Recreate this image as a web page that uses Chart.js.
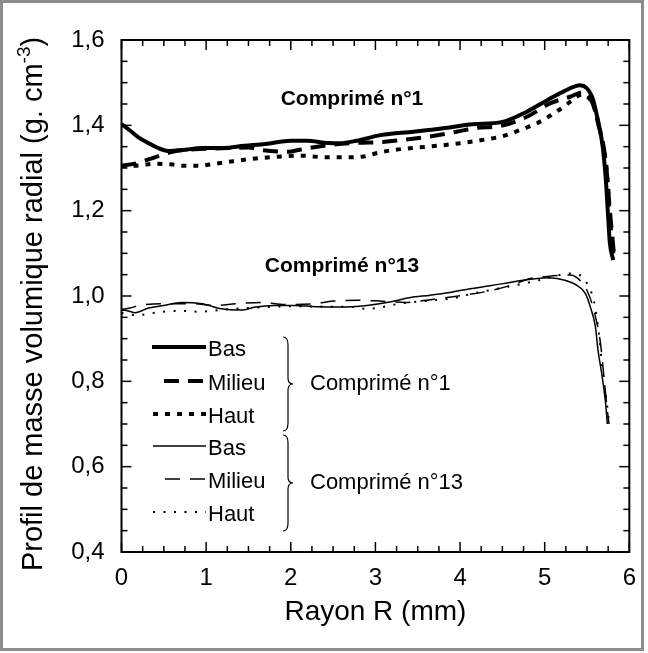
<!DOCTYPE html>
<html>
<head>
<meta charset="utf-8">
<script src="https://cdn.jsdelivr.net/npm/chart.js@4.4.0/dist/chart.umd.min.js"></script>
<style>
  html, body { margin: 0; padding: 0; background: #fff; }
  canvas { display: block; }
</style>
</head>
<body>
<canvas id="ch" width="648" height="653"></canvas>
<script>
// ── Données (rayon en mm, masse volumique en g.cm-3) ──
const c1BasR    = [0, 0.1, 0.2, 0.32, 0.42, 0.55, 0.72, 0.95, 1.2, 1.45, 1.7, 2.0, 2.2, 2.4, 2.58, 2.78, 3.06, 3.45, 3.8, 4.12, 4.5, 4.79, 5.03, 5.22, 5.42, 5.56, 5.62, 5.68, 5.72, 5.75, 5.77, 5.81];
const c1BasRho  = [1.403, 1.388, 1.372, 1.358, 1.348, 1.340, 1.342, 1.347, 1.347, 1.352, 1.356, 1.364, 1.364, 1.359, 1.358, 1.364, 1.377, 1.385, 1.393, 1.402, 1.408, 1.432, 1.459, 1.479, 1.494, 1.467, 1.420, 1.358, 1.279, 1.185, 1.124, 1.084];

const c1MilR    = [0, 0.18, 0.32, 0.47, 0.6, 0.72, 1.0, 1.3, 1.5, 1.66, 1.97, 2.11, 2.46, 2.78, 3.09, 3.37, 3.68, 3.96, 4.16, 4.51, 4.79, 5.07, 5.3, 5.46, 5.56, 5.63, 5.72, 5.77, 5.82];
const c1MilRho  = [1.305, 1.311, 1.320, 1.330, 1.338, 1.342, 1.345, 1.347, 1.348, 1.342, 1.338, 1.343, 1.354, 1.359, 1.361, 1.367, 1.375, 1.385, 1.393, 1.400, 1.420, 1.452, 1.467, 1.478, 1.455, 1.405, 1.318, 1.201, 1.095];

const c1HautR   = [0, 0.2, 0.4, 0.61, 0.75, 0.91, 1.07, 1.32, 1.62, 1.89, 2.1, 2.43, 2.7, 2.86, 3.02, 3.17, 3.45, 3.73, 4.0, 4.24, 4.51, 4.71, 4.91, 5.14, 5.3, 5.44, 5.58, 5.66, 5.74, 5.77, 5.81];
const c1HautRho = [1.305, 1.306, 1.310, 1.308, 1.305, 1.305, 1.309, 1.316, 1.323, 1.327, 1.329, 1.325, 1.325, 1.327, 1.335, 1.341, 1.347, 1.352, 1.358, 1.365, 1.375, 1.389, 1.405, 1.432, 1.455, 1.472, 1.444, 1.381, 1.279, 1.185, 1.100];

const c13BasR    = [0, 0.08, 0.16, 0.32, 0.5, 0.71, 0.95, 1.18, 1.42, 1.58, 1.81, 2.05, 2.3, 2.58, 2.9, 3.17, 3.4, 3.65, 3.9, 4.12, 4.51, 4.83, 5.06, 5.24, 5.38, 5.48, 5.54, 5.6, 5.63, 5.68, 5.72, 5.74];
const c13BasRho  = [0.967, 0.965, 0.961, 0.972, 0.978, 0.985, 0.982, 0.970, 0.967, 0.974, 0.978, 0.978, 0.975, 0.974, 0.978, 0.986, 0.996, 1.002, 1.009, 1.017, 1.029, 1.039, 1.043, 1.037, 1.025, 1.006, 0.974, 0.927, 0.873, 0.810, 0.748, 0.700];

const c13MilR    = [0, 0.1, 0.22, 0.49, 0.83, 1.1, 1.36, 1.66, 1.93, 2.27, 2.5, 2.8, 3.05, 3.35, 3.67, 3.94, 4.3, 4.6, 4.83, 5.03, 5.3, 5.38, 5.5, 5.58, 5.66, 5.7, 5.74, 5.76];
const c13MilRho  = [0.968, 0.972, 0.978, 0.982, 0.982, 0.978, 0.982, 0.985, 0.980, 0.982, 0.988, 0.990, 0.988, 0.985, 0.992, 0.999, 1.010, 1.025, 1.041, 1.046, 1.049, 1.043, 1.013, 0.967, 0.888, 0.810, 0.732, 0.700];

const c13HautR   = [0, 0.18, 0.47, 0.75, 0.91, 1.2, 1.5, 1.8, 2.1, 2.4, 2.74, 2.9, 3.06, 3.17, 3.4, 3.7, 3.95, 4.16, 4.44, 4.7, 5.0, 5.3, 5.44, 5.52, 5.58, 5.64, 5.67, 5.7, 5.74, 5.76];
const c13HautRho = [0.960, 0.955, 0.963, 0.965, 0.963, 0.968, 0.972, 0.975, 0.976, 0.975, 0.974, 0.970, 0.973, 0.978, 0.985, 0.990, 0.996, 1.006, 1.017, 1.027, 1.040, 1.053, 1.046, 1.021, 0.990, 0.912, 0.853, 0.800, 0.740, 0.700];

const xTickLabels = ['0', '1', '2', '3', '4', '5', '6'];
const yTickLabels = ['0,4', '0,6', '0,8', '1,0', '1,2', '1,4', '1,6'];
const serieLabels = ['Bas', 'Milieu', 'Haut', 'Bas', 'Milieu', 'Haut'];
const groupLabels = ['Comprimé n°1', 'Comprimé n°13'];

const FONT = '"Liberation Sans", Arial, Helvetica, sans-serif';

const pts = (r, rho) => r.map((v, i) => ({ x: v, y: rho[i] }));

function serie(label, r, rho, width, dash) {
    return {
        label, data: pts(r, rho),
        borderColor: '#000', borderWidth: width, borderDash: dash,
        pointRadius: 0, fill: false, cubicInterpolationMode: 'monotone',
        borderCapStyle: 'butt', borderJoinStyle: 'round',
    };
}

// ── Cadre, graduations internes, titres, légende ──────────────────────────
const decor = {
    id: 'decor',
    beforeDraw(chart) {
        const ctx = chart.ctx;
        ctx.save();
        ctx.fillStyle = '#fff';
        ctx.fillRect(0, 0, chart.width, chart.height);
        ctx.strokeStyle = '#8c8c8c';
        ctx.lineWidth = 3;
        ctx.strokeRect(1.5, 1.5, 641, 648);
        ctx.restore();
    },
    afterDraw(chart) {
        const { ctx, chartArea: a, scales: { x, y } } = chart;
        ctx.save();
        ctx.strokeStyle = '#000';
        ctx.lineWidth = 2;
        ctx.strokeRect(a.left, a.top, a.right - a.left, a.bottom - a.top);

        const seg = (x1, y1, x2, y2) => { ctx.beginPath(); ctx.moveTo(x1, y1); ctx.lineTo(x2, y2); ctx.stroke(); };
        ctx.lineWidth = 1.5;
        for (let i = 0; i <= 24; i++) {
            const px = x.getPixelForValue(i * 0.25);
            const len = i % 4 === 0 ? 10 : 6;
            seg(px, a.bottom, px, a.bottom - len);
            seg(px, a.top, px, a.top + len);
        }
        for (let i = 0; i <= 24; i++) {
            const py = y.getPixelForValue(0.4 + i * 0.05);
            const len = i % 4 === 0 ? 10 : 6;
            seg(a.left, py, a.left + len, py);
            seg(a.right, py, a.right - len, py);
        }

        // titre de l'axe x
        ctx.fillStyle = '#000';
        ctx.font = `28px ${FONT}`;
        ctx.textAlign = 'center';
        ctx.textBaseline = 'alphabetic';
        ctx.fillText('Rayon R (mm)', (a.left + a.right) / 2, 620);

        // titre de l'axe y, avec exposant
        const main = 'Profil de masse volumique radial (g. cm', sup = '-3', end = ')';
        ctx.save();
        ctx.translate(42, 304);
        ctx.rotate(-Math.PI / 2);
        ctx.textAlign = 'left';
        ctx.font = `29px ${FONT}`;
        const wMain = ctx.measureText(main).width, wEnd = ctx.measureText(end).width;
        ctx.font = `19px ${FONT}`;
        const wSup = ctx.measureText(sup).width;
        let sx = -(wMain + wSup + wEnd) / 2;
        ctx.font = `29px ${FONT}`;
        ctx.fillText(main, sx, 0);
        ctx.font = `19px ${FONT}`;
        ctx.fillText(sup, sx + wMain, -12);
        ctx.font = `29px ${FONT}`;
        ctx.fillText(end, sx + wMain + wSup, 0);
        ctx.restore();

        // annotations en gras
        ctx.font = `bold 21px ${FONT}`;
        ctx.textAlign = 'center';
        ctx.fillText(groupLabels[0], 352, 105);
        ctx.fillText(groupLabels[1], 342, 272);

        // légende
        const rows = [347, 381, 414, 446, 479, 512];
        const starts = [152, 164, 153, 153, 165, 153];
        chart.data.datasets.forEach((ds, i) => {
            ctx.save();
            ctx.strokeStyle = '#000';
            ctx.lineWidth = ds.borderWidth;
            ctx.setLineDash(ds.borderDash || []);
            ctx.lineCap = 'butt';
            seg(starts[i], rows[i], 206, rows[i]);
            ctx.restore();
            ctx.font = `22px ${FONT}`;
            ctx.textAlign = 'left';
            ctx.fillText(serieLabels[i], 208, rows[i] + 9);
        });

        // accolades
        const brace = (top, bot) => {
            const mid = (top + bot) / 2, xv = 288;
            ctx.beginPath();
            ctx.moveTo(xv - 5, top);
            ctx.quadraticCurveTo(xv, top, xv, top + 8);
            ctx.lineTo(xv, mid - 6);
            ctx.quadraticCurveTo(xv, mid, xv + 5, mid);
            ctx.quadraticCurveTo(xv, mid, xv, mid + 6);
            ctx.lineTo(xv, bot - 8);
            ctx.quadraticCurveTo(xv, bot, xv - 5, bot);
            ctx.stroke();
        };
        ctx.lineWidth = 1.2;
        brace(337, 431);
        brace(435, 531);
        ctx.font = `22px ${FONT}`;
        ctx.textAlign = 'left';
        ctx.fillText(groupLabels[0], 310, 390);
        ctx.fillText(groupLabels[1], 310, 489);
        ctx.restore();
    },
};

new Chart(document.getElementById('ch'), {
    type: 'line',
    data: {
        datasets: [
            serie('Comprimé n°1 Bas',     c1BasR,   c1BasRho,   4,   []),
            serie('Comprimé n°1 Milieu',  c1MilR,   c1MilRho,   4,   [15, 9]),
            serie('Comprimé n°1 Haut',    c1HautR,  c1HautRho,  4,   [5, 7]),
            serie('Comprimé n°13 Bas',    c13BasR,  c13BasRho,  1.5, []),
            serie('Comprimé n°13 Milieu', c13MilR,  c13MilRho,  1.5, [15, 10]),
            serie('Comprimé n°13 Haut',   c13HautR, c13HautRho, 2,   [2, 8.5]),
        ],
    },
    options: {
        responsive: false, animation: false, devicePixelRatio: 1,
        layout: { padding: { left: 0, top: 40, right: 18, bottom: 0 } },
        plugins: { legend: { display: false }, tooltip: { enabled: false } },
        scales: {
            x: {
                type: 'linear', min: 0, max: 6,
                grid: { display: false, drawTicks: false }, border: { display: false },
                ticks: { stepSize: 1, padding: 12, color: '#000', font: { family: FONT, size: 24 },
                         callback: (v) => xTickLabels[Math.round(v)] ?? '' },
                afterFit: (s) => { s.height = 101; },
            },
            y: {
                min: 0.4, max: 1.6,
                grid: { display: false, drawTicks: false }, border: { display: false },
                ticks: { stepSize: 0.2, padding: 17, color: '#000', font: { family: FONT, size: 24 },
                         callback: (v) => yTickLabels[Math.round((v - 0.4) / 0.2)] ?? '' },
                afterFit: (s) => { s.width = 121.5; },
            },
        },
    },
    plugins: [decor],
});
</script>
</body>
</html>
